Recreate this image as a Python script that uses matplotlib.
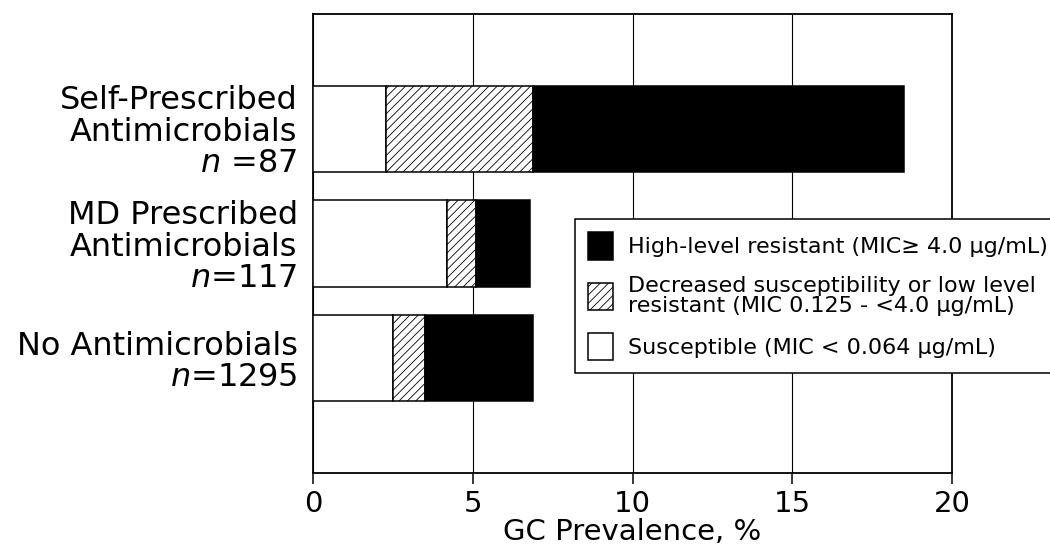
import matplotlib
matplotlib.use("Agg")
import matplotlib.pyplot as plt
import numpy as np

plt.rcParams["font.family"] = ["DejaVu Sans"]
plt.rcParams["mathtext.fontset"] = "dejavusans"
plt.rcParams["hatch.linewidth"] = 0.6

# rows from top to bottom
groups = ["Self-Prescribed\nAntimicrobials\n$n$ =87",
          "MD Prescribed\nAntimicrobials\n$n$=117",
          "No Antimicrobials\n$n$=1295"]
susceptible = [2.3, 4.2, 2.5]
decreased = [4.6, 0.9, 1.0]
high_level = [11.6, 1.7, 3.4]

legend_labels = ["High-level resistant (MIC\u2265 4.0 \u00b5g/mL)",
                 "Decreased susceptibility or low level\nresistant (MIC 0.125 - <4.0 \u00b5g/mL)",
                 "Susceptible (MIC < 0.064 \u00b5g/mL)"]

fig = plt.figure(figsize=(10.5, 5.46), dpi=100)
ax = fig.add_axes([0.2981, 0.1337, 0.6086, 0.8407])

y = np.arange(len(groups))[::-1] + 1.0
h = 0.75
left = np.zeros(len(groups))
b_s = ax.barh(y, susceptible, height=h, left=left, color="white",
              edgecolor="black", linewidth=1.1, zorder=3)
left += susceptible
b_d = ax.barh(y, decreased, height=h, left=left, color="white",
              edgecolor="black", hatch="////", linewidth=1.1, zorder=3)
left += decreased
b_h = ax.barh(y, high_level, height=h, left=left, color="black",
              edgecolor="black", linewidth=1.1, zorder=3)

ax.set_xlim(0, 20)
ax.set_ylim(0, 4.0)
ax.set_xticks([0, 5, 10, 15, 20])
ax.set_yticks(y)
ax.set_yticklabels(groups, fontsize=23, linespacing=1.02)
ax.tick_params(axis="y", length=0, pad=11)
ax.tick_params(axis="x", labelsize=21, length=8, width=1.1, direction="out", pad=4)
ax.xaxis.grid(True, color="black", linewidth=0.8, zorder=0)
ax.set_axisbelow(True)
for s in ax.spines.values():
    s.set_linewidth(1.3)
ax.set_xlabel("GC Prevalence, %", fontsize=21, labelpad=0)

leg = ax.legend([b_h, b_d, b_s], legend_labels, loc="upper left",
                bbox_to_anchor=(0.41, 0.553), borderaxespad=0,
                fontsize=16, frameon=True, fancybox=False,
                edgecolor="black", framealpha=1, handlelength=1.1,
                handleheight=1.5, handletextpad=0.7, labelspacing=0.75,
                borderpad=0.6)
leg.get_frame().set_linewidth(1.1)
leg.get_texts()[1].set_linespacing(1.0)
leg.set_zorder(5)

fig.savefig("out.png", dpi=100)
